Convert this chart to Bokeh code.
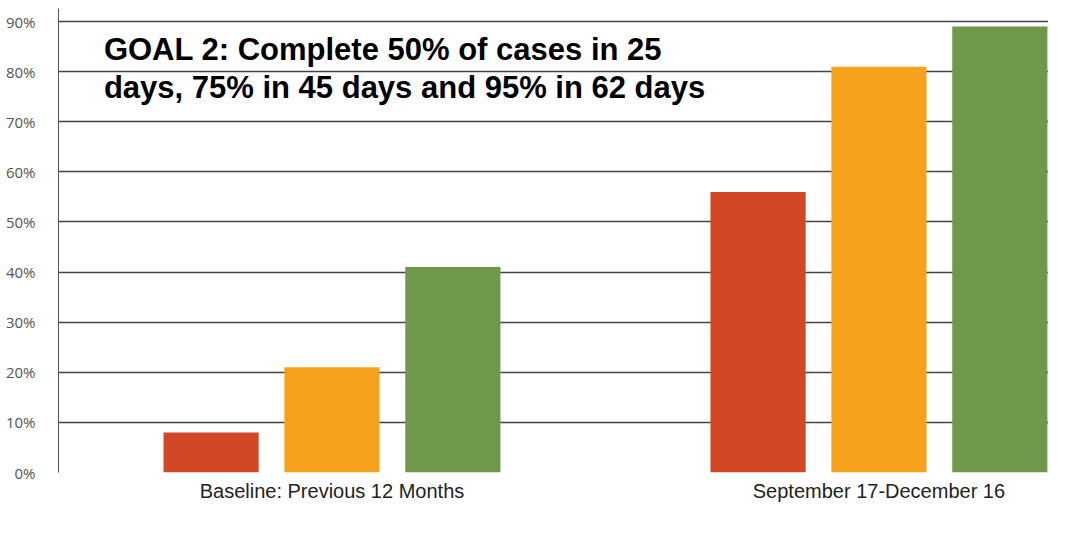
from bokeh.plotting import figure
from bokeh.models import Legend, LegendItem, Label, FixedTicker, Range1d
from bokeh.embed import file_html
from bokeh.resources import INLINE

categories = ["Baseline: Previous 12 Months", "September 17-December 16"]
series = ["25 Days", "45 Days", "62 Days"]
days25 = [8, 56]
days45 = [21, 81]
days62 = [41, 89]
colors = ["#D24726", "#F7A21D", "#70984A"]
y_ticks = [0, 10, 20, 30, 40, 50, 60, 70, 80, 90]

p = figure(frame_width=990, frame_height=464, output_backend="svg", toolbar_location=None,
           x_range=Range1d(-0.5, 1.31), y_range=Range1d(0, 92.6),
           min_border_left=58, min_border_right=0, min_border_top=8, min_border_bottom=0)
p.outline_line_color = None
p.background_fill_color = "white"
p.border_fill_color = "white"

xs = list(range(len(categories)))
offsets = [-0.221, 0.0, 0.221]
renderers = []
for vals, off, col in zip([days25, days45, days62], offsets, colors):
    r = p.vbar(x=[x + off for x in xs], top=vals, width=0.174, bottom=0,
               fill_color=col, line_color=None)
    renderers.append(r)

p.yaxis.ticker = FixedTicker(ticks=y_ticks)
p.yaxis.major_label_overrides = {t: f"{t}%" for t in y_ticks}
p.yaxis.major_tick_line_color = None
p.yaxis.minor_tick_line_color = None
p.yaxis.axis_line_color = "#555555"
p.yaxis.major_label_standoff = 17
p.yaxis.major_label_text_font = "Open Sans"
p.yaxis.major_label_text_font_size = "15px"
p.yaxis.major_label_text_color = "#555555"

p.xaxis.ticker = FixedTicker(ticks=xs)
p.xaxis.major_label_overrides = {i: c for i, c in enumerate(categories)}
p.xaxis.major_tick_line_color = None
p.xaxis.major_tick_out = 0
p.xaxis.major_tick_in = 0
p.xaxis.minor_tick_line_color = None
p.xaxis.axis_line_color = None
p.xaxis.major_label_standoff = 7
p.xaxis.major_label_text_font = "Liberation Sans"
p.xaxis.major_label_text_font_size = "20px"
p.xaxis.major_label_text_color = "#222222"

p.xgrid.grid_line_color = None
p.ygrid.ticker = FixedTicker(ticks=y_ticks)
p.ygrid.grid_line_color = "#444444"
p.ygrid.grid_line_width = 1.3

legend = Legend(items=[LegendItem(label=s, renderers=[r]) for s, r in zip(series, renderers)],
                orientation="horizontal", location="center",
                label_text_font="Liberation Sans", label_text_font_size="17px",
                label_text_color="#222222", glyph_width=8, glyph_height=8,
                spacing=18, label_standoff=5, padding=0, margin=0,
                border_line_color=None, background_fill_alpha=0)
p.add_layout(legend, "below")

for txt, yv in [("GOAL 2:  Complete 50% of cases in 25", 84.4),
                ("days, 75% in 45 days and 95% in 62 days", 76.8)]:
    p.add_layout(Label(x=-0.417, y=yv, text=txt, text_font="Liberation Sans",
                       text_font_style="bold", text_font_size="31px",
                       text_color="black", text_baseline="alphabetic"))

open("out.html", "w").write(file_html(p, INLINE))
